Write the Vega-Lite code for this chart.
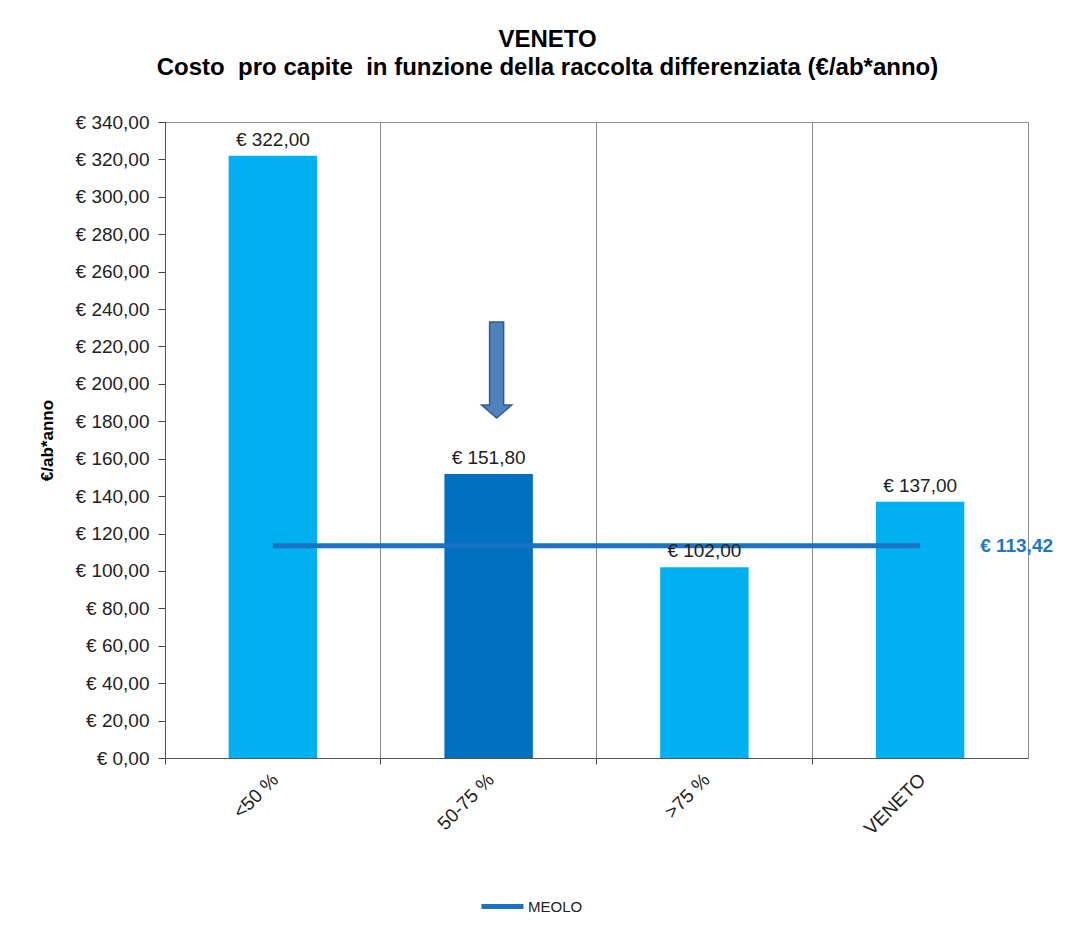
{
  "$schema": "https://vega.github.io/schema/vega-lite/v6.json",
  "width": 863,
  "height": 636,
  "autosize": {"type": "none"},
  "padding": {"left": 165, "top": 122, "right": 39, "bottom": 183},
  "background": "white",
  "config": {
    "font": "Liberation Sans",
    "locale": {"number": {"decimal": ",", "thousands": ".", "grouping": [3], "currency": ["€ ", ""]}},
    "view": {"stroke": "#8c8c8c", "strokeWidth": 1},
    "axisY": {
      "titleFontSize": 17,
      "titleFontWeight": "bold",
      "titleColor": "#000000",
      "titlePadding": 19,
      "labelOverlap": false,
      "labelFontSize": 19,
      "labelColor": "#222222",
      "labelPadding": 9,
      "tickSize": 7,
      "tickColor": "#444444",
      "domainColor": "#555555",
      "grid": false
    }
  },
  "title": {
    "text": ["VENETO", "Costo \u00a0pro capite \u00a0in funzione della raccolta differenziata (€/ab*anno)"],
    "fontSize": 24,
    "fontWeight": "bold",
    "color": "#000000",
    "lineHeight": 28,
    "anchor": "middle",
    "frame": "group",
    "dx": -49,
    "offset": 33
  },
  "data": {
    "values": [
      {"fascia": "<50 %", "costo": 322.0, "meolo": 113.42, "serie": "MEOLO", "freccia": null},
      {"fascia": "50-75 %", "costo": 151.8, "meolo": 113.42, "serie": "MEOLO", "freccia": 207.4},
      {"fascia": ">75 %", "costo": 102.0, "meolo": 113.42, "serie": "MEOLO", "freccia": null},
      {"fascia": "VENETO", "costo": 137.0, "meolo": 113.42, "serie": "MEOLO", "freccia": null}
    ]
  },
  "encoding": {
    "x": {
      "field": "fascia",
      "type": "nominal",
      "sort": null,
      "scale": {"paddingInner": 0, "paddingOuter": 0},
      "axis": {
        "title": null,
        "bandPosition": 0,
        "labelOffset": -4,
        "labelAngle": -45,
        "labelFontSize": 19,
        "labelColor": "#222222",
        "labelPadding": 6,
        "tickSize": 6,
        "tickColor": "#444444",
        "domainColor": "#555555",
        "grid": true,
        "gridColor": "#8c8c8c",
        "gridWidth": 1
      }
    }
  },
  "layer": [
    {
      "mark": {"type": "bar", "width": {"band": 0.41}},
      "encoding": {
        "y": {
          "field": "costo",
          "type": "quantitative",
          "scale": {"domain": [0, 340], "nice": false},
          "axis": {"title": "€/ab*anno", "format": "$.2f", "values": [0, 20, 40, 60, 80, 100, 120, 140, 160, 180, 200, 220, 240, 260, 280, 300, 320, 340]}
        },
        "color": {
          "condition": {"test": "datum.fascia === '50-75 %'", "value": "#0070C0"},
          "value": "#00B0F0"
        }
      }
    },
    {
      "mark": {"type": "line", "strokeWidth": 5, "strokeCap": "butt"},
      "encoding": {
        "y": {
          "field": "meolo",
          "type": "quantitative",
          "axis": {"title": "€/ab*anno", "format": "$.2f", "values": [0, 20, 40, 60, 80, 100, 120, 140, 160, 180, 200, 220, 240, 260, 280, 300, 320, 340]}
        },
        "stroke": {
          "field": "serie",
          "type": "nominal",
          "scale": {"range": ["#1B72C0"]},
          "legend": {
            "title": null,
            "orient": "none",
            "legendX": 314,
            "legendY": 761,
            "padding": 0,
            "symbolType": "stroke",
            "symbolSize": 1764,
            "symbolStrokeWidth": 5,
            "labelFontSize": 15,
            "labelColor": "#222222",
            "labelOffset": 2
          }
        }
      }
    },
    {
      "mark": {"type": "text", "baseline": "bottom", "dy": -6, "fontSize": 19, "color": "#222222"},
      "encoding": {
        "y": {
          "field": "costo",
          "type": "quantitative",
          "axis": {"title": "€/ab*anno", "format": "$.2f", "values": [0, 20, 40, 60, 80, 100, 120, 140, 160, 180, 200, 220, 240, 260, 280, 300, 320, 340]}
        },
        "text": {"field": "costo", "type": "quantitative", "format": "$.2f"}
      }
    },
    {
      "transform": [{"filter": "datum.fascia === 'VENETO'"}],
      "mark": {"type": "text", "align": "left", "baseline": "middle", "dx": 60, "fontSize": 19, "fontWeight": "bold", "color": "#1F78C4"},
      "encoding": {
        "y": {
          "field": "meolo",
          "type": "quantitative",
          "axis": {"title": "€/ab*anno", "format": "$.2f", "values": [0, 20, 40, 60, 80, 100, 120, 140, 160, 180, 200, 220, 240, 260, 280, 300, 320, 340]}
        },
        "text": {"field": "meolo", "type": "quantitative", "format": "$.2f"}
      }
    },
    {
      "transform": [{"filter": "datum.freccia != null"}],
      "mark": {
        "type": "point",
        "shape": "M-0.073,-0.5L0.073,-0.5L0.073,0.365L0.156,0.365L0,0.5L-0.156,0.365L-0.073,0.365Z",
        "size": 36864,
        "filled": true,
        "fill": "#4F81BD",
        "stroke": "#2F5C8F",
        "strokeWidth": 1.5,
        "opacity": 1,
        "xOffset": 8
      },
      "encoding": {
        "y": {
          "field": "freccia",
          "type": "quantitative",
          "axis": {"title": "€/ab*anno", "format": "$.2f", "values": [0, 20, 40, 60, 80, 100, 120, 140, 160, 180, 200, 220, 240, 260, 280, 300, 320, 340]}
        }
      }
    }
  ]
}
